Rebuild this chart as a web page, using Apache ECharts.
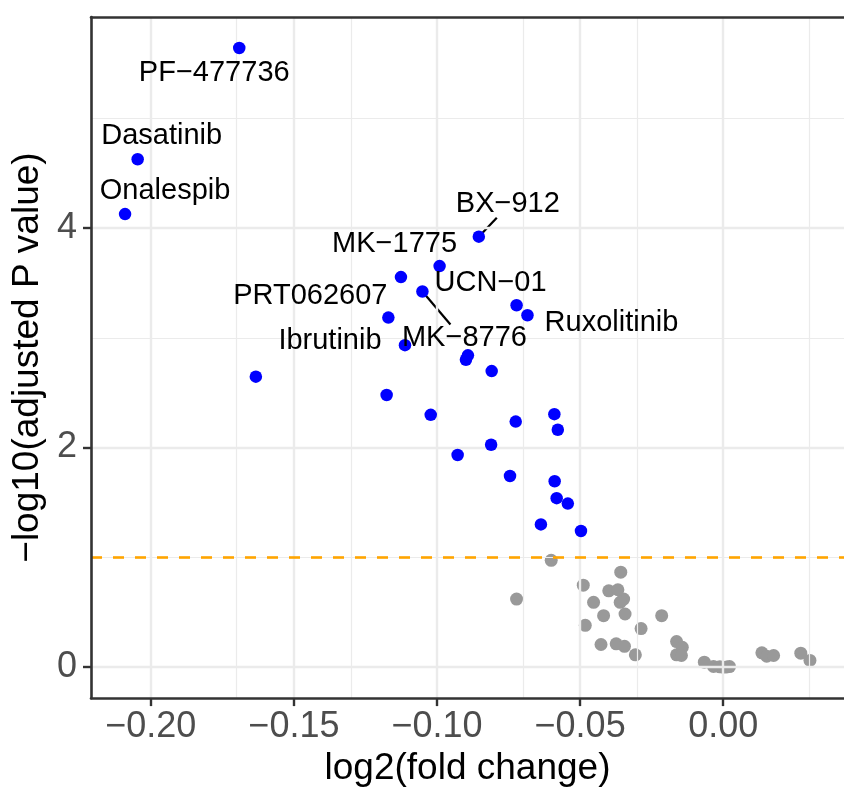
<!DOCTYPE html>
<html>
<head>
<meta charset="utf-8">
<script src="https://cdn.jsdelivr.net/npm/echarts@6/dist/echarts.min.js"></script>
<style>
  html, body { margin: 0; padding: 0; background: #fff; }
  #chart { width: 844px; height: 792px; }
</style>
</head>
<body>
<div id="chart"></div>
<script>
// significant drugs (blue)
const sigX = [-0.1691, -0.2046, -0.2090, -0.0854, -0.0991, -0.1126, -0.1051, -0.0722, -0.0684, -0.1170,
  -0.1112, -0.0899, -0.0892, -0.0809, -0.1176, -0.1633, -0.1022, -0.0725, -0.0590, -0.0578,
  -0.0811, -0.0928, -0.0745, -0.0589, -0.0582, -0.0543, -0.0637, -0.0497]
const sigY = [5.64, 4.626, 4.127, 3.921, 3.653, 3.553, 3.422, 3.296, 3.205, 3.184,
  2.933, 2.80, 2.84, 2.697, 2.479, 2.646, 2.298, 2.237, 2.304, 2.162,
  2.026, 1.932, 1.741, 1.693, 1.539, 1.490, 1.300, 1.240]
const sigName = ["PF−477736", "Dasatinib", "Onalespib", "BX−912", "MK−1775", "", "MK−8776", "UCN−01", "Ruxolitinib", "PRT062607",
  "Ibrutinib", "", "", "", "", "", "", "", "", "",
  "", "", "", "", "", "", "", ""]

// non significant (grey)
const nsX = [-0.0601, -0.0722, -0.0489, -0.0358, -0.0400, -0.0368, -0.0453, -0.0348, -0.0360, -0.0418,
  -0.0343, -0.0482, -0.0215, -0.0287, -0.0427, -0.0374, -0.0345, -0.0307, -0.0163, -0.0143,
  -0.0163, -0.0146, -0.0066, -0.0034, -0.0012, 0.0000, 0.0012, 0.0022, 0.0135, 0.0152,
  0.0176, 0.0271, 0.0303]
const nsY = [0.973, 0.620, 0.747, 0.865, 0.695, 0.705, 0.590, 0.620, 0.590, 0.469,
  0.484, 0.381, 0.469, 0.351, 0.206, 0.212, 0.190, 0.112, 0.233, 0.181,
  0.112, 0.106, 0.045, 0.006, 0.003, 0.000, 0.002, 0.005, 0.130, 0.100,
  0.106, 0.127, 0.061]

const threshold = 1
const xMajor = [-0.20, -0.15, -0.10, -0.05, 0.00]
const xMinor = [-0.175, -0.125, -0.075, -0.025, 0.025]
const yMajor = [0, 2, 4]
const yMinor = [1, 3, 5]
const xLimits = [-0.2209, 0.0422]
const yLimits = [-0.282, 5.922]

// label placement in pixels, relative to the point (ggrepel look)
const labelNudge = {
  "PF−477736": [-25, 25],
  "Dasatinib": [24, -23],
  "Onalespib": [40, -23],
  "BX−912": [29, -33],
  "MK−1775": [-45, -22],
  "UCN−01": [-26, -22],
  "PRT062607": [-78, -22],
  "MK−8776": [42, 47],
  "Ruxolitinib": [84, 8],
  "Ibrutinib": [-75, -4],
}
// segment end, pixels from the point
const segmentEnd = { "BX−912": [18, -19], "MK−8776": [28, 33] }

const fmtX = (v) => v.toFixed(2).replace("-", "−")

const chart = echarts.init(document.getElementById("chart"))

const gridLines = []
xMajor.forEach((v) => gridLines.push({ xAxis: v, lineStyle: { width: 2.4 } }))
xMinor.forEach((v) => gridLines.push({ xAxis: v, lineStyle: { width: 1.2 } }))
yMajor.forEach((v) => gridLines.push({ yAxis: v, lineStyle: { width: 2.4 } }))
yMinor.forEach((v) => gridLines.push({ yAxis: v, lineStyle: { width: 1.2 } }))

const segData = sigName
  .map((n, i) => [sigX[i], sigY[i], n])
  .filter((d) => segmentEnd[d[2]])

const option = {
  animation: false,
  textStyle: { fontFamily: "Liberation Sans" },
  grid: { left: 91, top: 17, right: -4, bottom: 91 },
  xAxis: [
    {
      type: "value",
      min: xLimits[0],
      max: xLimits[1],
      z: 10,
      axisLine: { show: true, onZero: false, lineStyle: { color: "#333333", width: 2.6 } },
      axisTick: { show: true, customValues: xMajor, length: 8, lineStyle: { color: "#333333", width: 2.4 } },
      axisLabel: { customValues: xMajor, formatter: fmtX, fontSize: 36, color: "#4D4D4D", margin: 11 },
      splitLine: { show: false },
      name: "log2(fold change)",
      nameLocation: "middle",
      nameGap: 49,
      nameTextStyle: { fontSize: 37, color: "#000" },
    },
    {
      type: "value",
      position: "top",
      min: xLimits[0],
      max: xLimits[1],
      z: 10,
      axisLine: { show: true, onZero: false, lineStyle: { color: "#333333", width: 2.6 } },
      axisTick: { show: false },
      axisLabel: { show: false },
      splitLine: { show: false },
    },
  ],
  yAxis: {
    type: "value",
    min: yLimits[0],
    max: yLimits[1],
    z: 10,
    axisLine: { show: true, onZero: false, lineStyle: { color: "#333333", width: 2.6 } },
    axisTick: { show: true, customValues: yMajor, length: 8, lineStyle: { color: "#333333", width: 2.4 } },
    axisLabel: { customValues: yMajor, fontSize: 36, color: "#4D4D4D", margin: 14 },
    splitLine: { show: false },
    name: "−log10(adjusted P value)",
    nameLocation: "middle",
    nameGap: 42,
    nameTextStyle: { fontSize: 37, color: "#000" },
  },
  series: [
    {
      type: "scatter",
      data: [],
      silent: true,
      z: 1,
      markLine: {
        silent: true,
        symbol: "none",
        label: { show: false },
        lineStyle: { color: "#EBEBEB", type: "solid" },
        data: gridLines,
      },
    },
    {
      type: "scatter",
      data: nsX.map((x, i) => [x, nsY[i]]),
      symbolSize: 13,
      itemStyle: { color: "#999999", opacity: 1 },
      z: 3,
      markLine: {
        silent: true,
        symbol: "none",
        label: { show: false },
        lineStyle: { color: "#FFA500", type: [11, 11], width: 2.6 },
        data: [{ yAxis: threshold }],
      },
    },
    {
      type: "custom",
      z: 4,
      silent: true,
      data: segData,
      renderItem: (params, api) => {
        const p = api.coord([api.value(0), api.value(1)])
        const e = segmentEnd[segData[params.dataIndex][2]]
        return {
          type: "line",
          shape: { x1: p[0], y1: p[1], x2: p[0] + e[0], y2: p[1] + e[1] },
          style: { stroke: "#000", lineWidth: 2.2 },
        }
      },
    },
    {
      type: "scatter",
      data: sigX.map((x, i) => ({ value: [x, sigY[i]], name: sigName[i] })),
      symbolSize: 12.5,
      itemStyle: { color: "#0000FF", opacity: 1 },
      z: 5,
      label: {
        show: true,
        position: "inside",
        formatter: (p) => p.name,
        fontSize: 29,
        color: "#000",
      },
      labelLayout: (params) => {
        const n = sigName[params.dataIndex]
        const d = labelNudge[n] || [0, 0]
        return { dx: d[0], dy: d[1] }
      },
    },
  ],
}

chart.setOption(option)
</script>
</body>
</html>
